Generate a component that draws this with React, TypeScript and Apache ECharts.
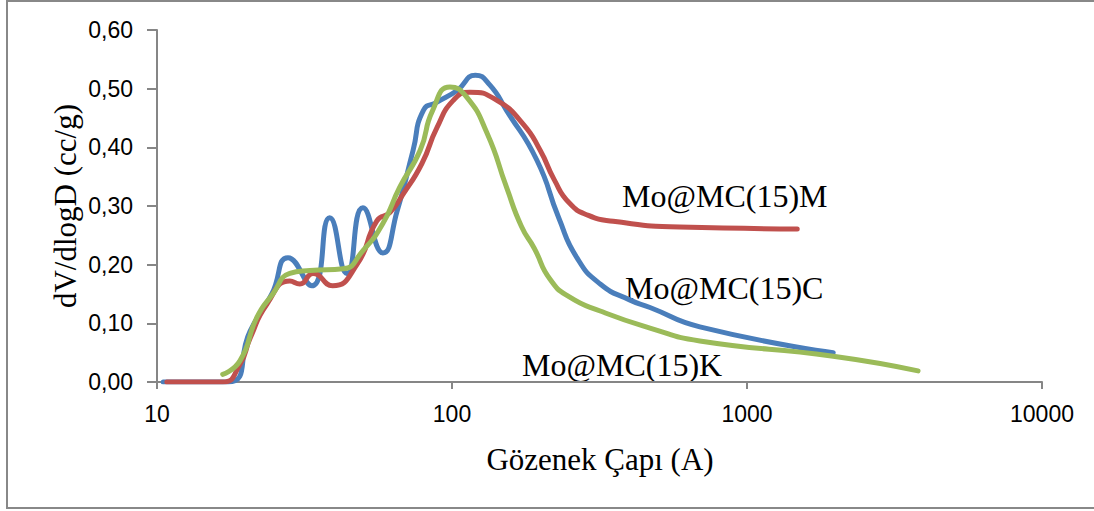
import React, { useEffect, useRef } from "react";
import * as echarts from "echarts";

// Pore diameter (Å) / dV/dlogD (cc/g) pairs for each sample
const seriesM: [number, number][] = [
  [10.8, 0], [16.7, 0], [19.1, 0.03], [20.7, 0.075], [23.6, 0.133], [28.2, 0.172],
  [30.5, 0.167], [33.8, 0.185], [39.4, 0.164], [47.6, 0.2], [55.7, 0.275],
  [61.6, 0.289], [68.2, 0.32], [79, 0.372], [89, 0.434], [101, 0.48], [115, 0.494],
  [142, 0.48], [174, 0.44], [199, 0.395], [222, 0.345], [250, 0.305], [290, 0.284],
  [352, 0.274], [591, 0.264], [1480, 0.261],
];

const seriesC: [number, number][] = [
  [10.5, 0], [17.4, 0], [20.7, 0.087], [24.5, 0.15], [27.8, 0.212], [33.5, 0.164],
  [38.5, 0.28], [44, 0.185], [49.9, 0.297], [58.3, 0.22], [65.2, 0.292], [73.8, 0.395],
  [80, 0.463], [89, 0.477], [104, 0.497], [120, 0.523], [134.5, 0.506], [153, 0.463],
  [194, 0.378], [230, 0.28], [265, 0.212], [318, 0.167], [400, 0.14], [469, 0.127],
  [692, 0.094], [1960, 0.05],
];

const seriesK: [number, number][] = [
  [16.7, 0.013], [19.1, 0.036], [21.8, 0.11], [24.7, 0.15], [28.2, 0.185], [33, 0.19],
  [42.7, 0.193], [49.9, 0.224], [58.3, 0.27], [66.5, 0.332], [78, 0.395], [86, 0.463],
  [98.4, 0.503], [112, 0.486], [131.5, 0.424], [153, 0.332], [172, 0.265], [190, 0.228],
  [215, 0.175], [250, 0.145], [318, 0.121], [469, 0.092], [692, 0.07], [1960, 0.044],
  [3800, 0.019],
];

const seriesNames = ["Mo@MC(15)M", "Mo@MC(15)C", "Mo@MC(15)K"];
const colors = ["#C0504D", "#4A7EBB", "#9BBB59"];

const xTitle = "Gözenek Çapı (A)";
const yTitle = "dV/dlogD (cc/g)";

export default function App() {
  const ref = useRef<HTMLDivElement>(null);

  useEffect(() => {
    if (!ref.current) return;
    const chart = echarts.init(ref.current, undefined, { renderer: "svg" });
    const axisGray = "#868686";
    const serif = "'Liberation Serif', 'Times New Roman', serif";
    const sans = "'Liberation Sans', Arial, sans-serif";

    const mkLine = (name: string, data: [number, number][], color: string, z: number) => ({
      name,
      type: "line",
      data,
      smooth: 0.55,
      showSymbol: false,
      z,
      lineStyle: { width: 5, color, cap: "round", join: "round" },
    });

    chart.setOption({
      animation: false,
      backgroundColor: "#ffffff",
      grid: { left: 157, right: 52, top: 30, bottom: 129 },
      xAxis: {
        type: "log",
        logBase: 10,
        min: 10,
        max: 10000,
        splitLine: { show: false },
        minorTick: { show: false },
        axisLine: { onZero: false, lineStyle: { color: axisGray, width: 2 } },
        axisTick: { show: true, length: 7, lineStyle: { color: axisGray, width: 2 } },
        axisLabel: {
          color: "#000",
          fontFamily: sans,
          fontSize: 23,
          margin: 20,
          formatter: (v: number) => String(Math.round(v)),
        },
      },
      yAxis: {
        type: "value",
        min: 0,
        max: 0.6,
        interval: 0.1,
        splitLine: { show: false },
        axisLine: { show: true, lineStyle: { color: axisGray, width: 2 } },
        axisTick: { show: true, length: 10, lineStyle: { color: axisGray, width: 2 } },
        axisLabel: {
          color: "#000",
          fontFamily: sans,
          fontSize: 23,
          margin: 24,
          formatter: (v: number) => v.toFixed(2).replace(".", ","),
        },
      },
      series: [
        mkLine(seriesNames[1], seriesC, colors[1], 2),
        mkLine(seriesNames[0], seriesM, colors[0], 3),
        mkLine(seriesNames[2], seriesK, colors[2], 4),
      ],
      graphic: [
        {
          type: "rect",
          shape: { x: 7, y: 1, width: 1200, height: 507 },
          style: { fill: "none", stroke: "#888888", lineWidth: 2 },
          silent: true,
          z: -1,
        },
        {
          type: "text",
          x: 65,
          y: 206,
          rotation: Math.PI / 2,
          style: {
            text: yTitle,
            font: `31px ${serif}`,
            fill: "#000",
            align: "center",
            verticalAlign: "middle",
          },
        },
        {
          type: "text",
          x: 600,
          y: 459,
          style: {
            text: xTitle,
            font: `31px ${serif}`,
            fill: "#000",
            align: "center",
            verticalAlign: "middle",
          },
        },
        {
          type: "text",
          x: 622,
          y: 196,
          style: { text: seriesNames[0], font: `32px ${serif}`, fill: "#000", align: "left", verticalAlign: "middle" },
        },
        {
          type: "text",
          x: 625,
          y: 288,
          style: { text: seriesNames[1], font: `32px ${serif}`, fill: "#000", align: "left", verticalAlign: "middle" },
        },
        {
          type: "text",
          x: 522,
          y: 365,
          style: { text: seriesNames[2], font: `32px ${serif}`, fill: "#000", align: "left", verticalAlign: "middle" },
        },
      ],
    });

    return () => chart.dispose();
  }, []);

  return (
    <div
      ref={ref}
      style={{ position: "fixed", left: 0, top: 0, width: 1094, height: 511, background: "#fff" }}
    />
  );
}
